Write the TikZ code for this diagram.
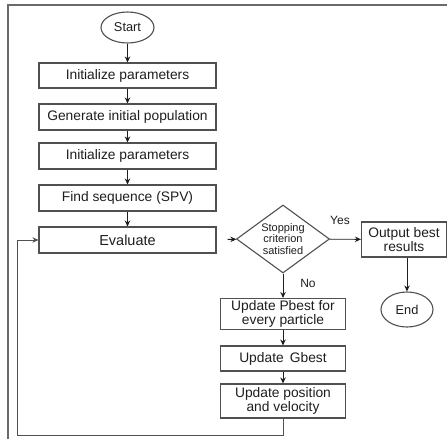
\documentclass[tikz,border=0pt]{standalone}
\usepackage{fontspec}
\setmainfont{Liberation Sans}
\usetikzlibrary{shapes.geometric,arrows.meta}
\definecolor{edge}{HTML}{505050}
\definecolor{ink}{HTML}{1E1E1E}
\definecolor{frame}{HTML}{6A6A6A}
\begin{document}
\begin{tikzpicture}[x=1pt,y=-1pt,
  every node/.style={text=ink},
  procbox/.style={draw=edge,line width=1.1pt,rectangle,inner sep=0pt,align=center,
    font=\fontsize{13.8}{13.6}\selectfont},
  term/.style={draw=edge,line width=1.1pt,ellipse,inner sep=0pt,
    font=\fontsize{12.8}{14}\selectfont},
  decision/.style={draw=edge,line width=1.1pt,diamond,aspect=1.37,inner sep=0pt,
    align=center,font=\fontsize{11}{11.8}\selectfont},
  flow/.style={draw=ink,line width=0.9pt,-{Stealth[length=6pt,width=5.5pt]}},
  tag/.style={font=\fontsize{12}{13}\selectfont}]
\useasboundingbox (0,0) rectangle (447,439);
% outer frame (top and left edges only)
\draw[frame,line width=1.6pt] (8,439) -- (8,5) -- (447,5);

% main column
\node[term,minimum width=53pt,minimum height=31pt] (start) at (127.5,27.5) {Start};
\node[procbox,minimum width=177pt,minimum height=25pt] (init1) at (127.5,75.5) {Initialize parameters};
\node[procbox,minimum width=177pt,minimum height=26pt] (gen) at (127.5,117) {Generate initial population};
\node[procbox,minimum width=177pt,minimum height=26pt] (init2) at (127.5,156) {Initialize parameters};
\node[procbox,minimum width=177pt,minimum height=26pt] (spv) at (127.5,198) {Find sequence (SPV)};
\node[procbox,minimum width=177pt,minimum height=26pt,font=\fontsize{14.5}{15}\selectfont] (eval) at (127.5,240) {Evaluate};

% decision and exit branch
\node[decision,minimum width=93pt,minimum height=68pt] (stop) at (283,239) {Stopping\\criterion\\satisfied};
\node[procbox,minimum width=85pt,minimum height=35pt] (out) at (404,239.5) {Output best\\results};
\node[term,minimum width=52pt,minimum height=35pt] (end) at (407,309.5) {End};

% update column
\node[procbox,minimum width=125pt,minimum height=31pt] (pbest) at (283,314) {Update Pbest for\\every particle};
\node[procbox,minimum width=125pt,minimum height=25pt] (gbest) at (283,358.5) {Update\ \,Gbest};
\node[procbox,minimum width=125pt,minimum height=34pt] (posv) at (283,401) {Update position\\and velocity};

\coordinate (loop) at (17,435);

% connectors
\draw[flow] (start) -- (init1);
\draw[flow] (init1) -- (gen);
\draw[flow] (gen) -- (init2);
\draw[flow] (init2) -- (spv);
\draw[flow] (spv) -- (eval);
\draw[flow,shorten <=11pt] (eval) -- (stop);
\draw[flow] (stop) -- (out);
\draw[flow] (out.south -| end.north) -- (end);
\draw[flow] (stop) -- (pbest);
\draw[flow] (pbest) -- (gbest);
\draw[flow] (gbest) -- (posv);
\draw[draw=edge,line width=1pt] (posv.south) |- (loop);
\draw[flow,draw=edge] (loop) |- (eval.west);

% branch labels
\node[tag] (yes) at (340,220) {Yes};
\node[tag] (no) at (308,283) {No};
\end{tikzpicture}
\end{document}
